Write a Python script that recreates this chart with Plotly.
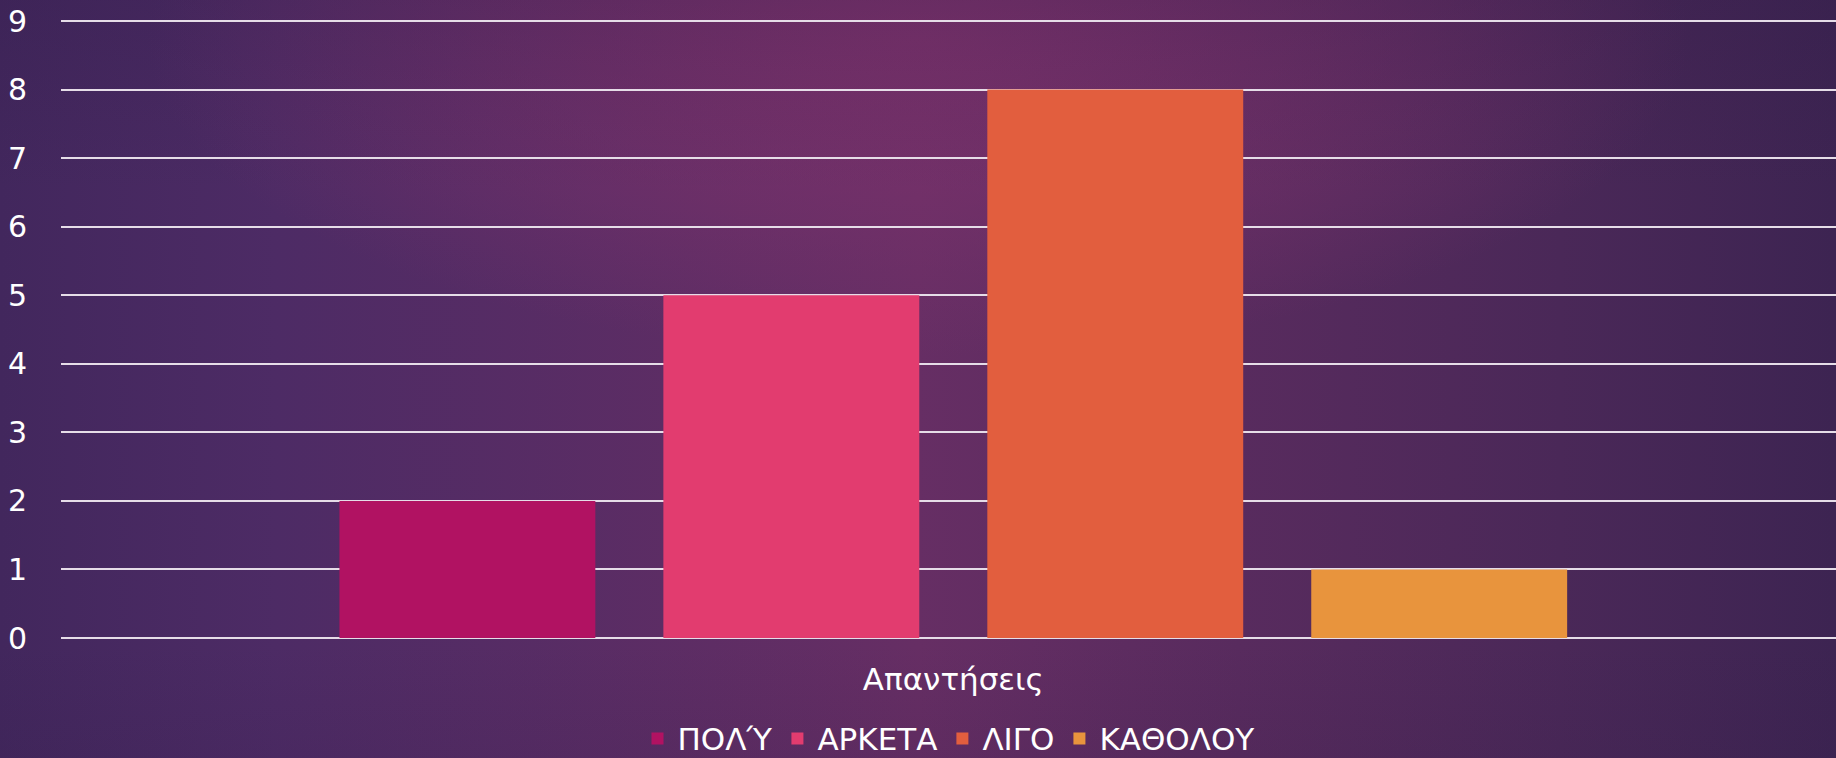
import base64
import plotly.graph_objects as go

# ---- data ----
category = ["Απαντήσεις"]
series_names = ["ΠΟΛΎ", "ΑΡΚΕΤΑ", "ΛΙΓΟ", "ΚΑΘΟΛΟΥ"]
series_values = [2, 5, 8, 1]
series_colors = ["#B11262", "#E23C6F", "#E25E3E", "#E8943D"]
y_ticks = list(range(0, 10))

W, H = 1836, 758
ML, MR, MT, MB = 61, 0, 20, 120
PW, PH = W - ML - MR, H - MT - MB
YMAX = 9.015
XSHIFT = 0.0027

FONT = "DejaVu Sans"

svg = f'''<svg xmlns="http://www.w3.org/2000/svg" width="{W}" height="{H}" viewBox="0 0 {W} {H}" preserveAspectRatio="none">
<defs>
<linearGradient id="lin" x1="0" y1="0" x2="1" y2="0">
<stop offset="0" stop-color="#42275d"/>
<stop offset="0.15" stop-color="#4d2b65"/>
<stop offset="0.5" stop-color="#662e64"/>
<stop offset="0.85" stop-color="#4a2858"/>
<stop offset="1" stop-color="#3d2452"/>
</linearGradient>
<radialGradient id="rad" cx="0.5" cy="0.05" r="0.42" gradientUnits="objectBoundingBox">
<stop offset="0" stop-color="#7c326c" stop-opacity="1"/>
<stop offset="1" stop-color="#7c326c" stop-opacity="0"/>
</radialGradient>
<linearGradient id="top" x1="0" y1="0" x2="0" y2="1">
<stop offset="0" stop-color="#2e1a45" stop-opacity="0.22"/>
<stop offset="0.25" stop-color="#2e1a45" stop-opacity="0"/>
<stop offset="0.85" stop-color="#2e1a45" stop-opacity="0"/>
<stop offset="1" stop-color="#2e1a45" stop-opacity="0.12"/>
</linearGradient>
</defs>
<rect width="{W}" height="{H}" fill="url(#lin)"/>
<rect width="{W}" height="{H}" fill="url(#rad)"/>
<rect width="{W}" height="{H}" fill="url(#top)"/>
</svg>'''
src = "data:image/svg+xml;base64," + base64.b64encode(svg.encode("utf-8")).decode("ascii")

fig = go.Figure()
for name, val, col in zip(series_names, series_values, series_colors):
    fig.add_trace(go.Bar(x=category, y=[val], name=name, marker=dict(color=col, line=dict(width=0))))

fig.update_layout(
    width=W, height=H,
    margin=dict(l=ML, r=MR, t=MT, b=MB, pad=0, autoexpand=False),
    paper_bgcolor="#4e285c",
    plot_bgcolor="rgba(0,0,0,0)",
    barmode="group",
    bargap=0.27,
    bargroupgap=0.21,
    font=dict(family=FONT, color="#ffffff", size=30),
    showlegend=True,
    legend=dict(
        orientation="h", x=0.5, xanchor="center", y=-0.163, yanchor="middle",
        font=dict(family=FONT, size=31, color="#ffffff"),
        bgcolor="rgba(0,0,0,0)", itemsizing="constant", traceorder="normal",
    ),
    images=[dict(
        source=src, xref="paper", yref="paper",
        x=-ML / PW, y=1 + MT / PH, sizex=W / PW, sizey=H / PH,
        xanchor="left", yanchor="top", sizing="stretch", layer="below",
    )],
)
fig.update_xaxes(
    range=[-0.5 - XSHIFT, 0.5 - XSHIFT],
    showgrid=False, zeroline=False, showline=False, automargin=False,
    tickfont=dict(family=FONT, size=31, color="#ffffff"),
    ticklabelstandoff=20, ticks="",
)
fig.update_yaxes(
    range=[0, YMAX], tickvals=y_ticks, ticktext=[str(v) for v in y_ticks],
    showgrid=True, gridcolor="#e6dde8", gridwidth=2, automargin=False,
    zeroline=True, zerolinecolor="#e6dde8", zerolinewidth=2,
    showline=False, ticks="",
    tickfont=dict(family=FONT, size=30, color="#ffffff"),
    ticklabelstandoff=33,
)

fig.write_html(
    "out.html",
    config={"displayModeBar": False},
    post_script="document.body.style.margin='0';document.body.style.overflow='hidden';",
)
